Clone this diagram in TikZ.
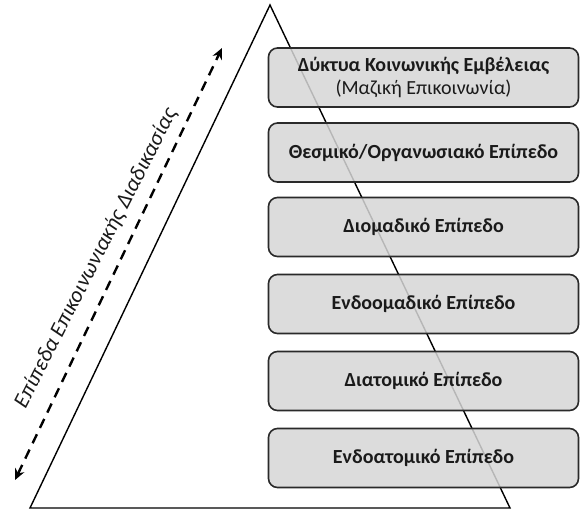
\documentclass[tikz,border=0pt]{standalone}
\usepackage{fontspec}
\setmainfont{Carlito}
\usetikzlibrary{arrows.meta}
\definecolor{boxfill}{HTML}{D6D6D6}
\definecolor{boxline}{HTML}{2A2A2A}
\definecolor{txt}{HTML}{1A1A1A}
\begin{document}
\begin{tikzpicture}[x=1pt,y=-1pt,
  levelbox/.style={draw=boxline, line width=1.6pt, rounded corners=9pt,
    fill=boxfill, fill opacity=0.85, text opacity=1, text=txt,
    minimum width=310pt, minimum height=59pt, inner sep=0pt, align=center,
    font=\bfseries\fontsize{20}{23}\selectfont},
  edge/.style={line width=1.4pt, black},
  flow/.style={line width=2.4pt, dash pattern=on 10pt off 7pt, {Stealth[length=11pt,width=10pt]}-{Stealth[length=11pt,width=10pt]}}
]
\useasboundingbox (0,0) rectangle (581,512);
\fill[white] (0,0) rectangle (581,512);
\coordinate (apex) at (270,5);
\coordinate (bl) at (30,508);
\coordinate (br) at (510,508);
\draw[edge, line join=miter] (apex) -- (bl) -- (br) -- cycle;

\node[levelbox] (b1) at (423.5,77.5) {Δύκτυα Κοινωνικής Εμβέλειας\\{\mdseries (Μαζική Επικοινωνία)}};
\node[levelbox] (b2) at (423.5,152.5) {Θεσμικό/Οργανωσιακό Επίπεδο};
\node[levelbox] (b3) at (423.5,227) {Διομαδικό Επίπεδο};
\node[levelbox] (b4) at (423.5,304) {Ενδοομαδικό Επίπεδο};
\node[levelbox] (b5) at (423.5,381) {Διατομικό Επίπεδο};
\node[levelbox] (b6) at (423.5,458) {Ενδοατομικό Επίπεδο};

\coordinate (ab) at (15,480);
\coordinate (at) at (222,48);
\draw[flow] (ab) -- (at);
\node[rotate=63, font=\itshape\fontsize{22}{26}\selectfont, text=txt] (lbl) at (96,258) {Επίπεδα Επικοινωνιακής Διαδικασίας};
\end{tikzpicture}
\end{document}
